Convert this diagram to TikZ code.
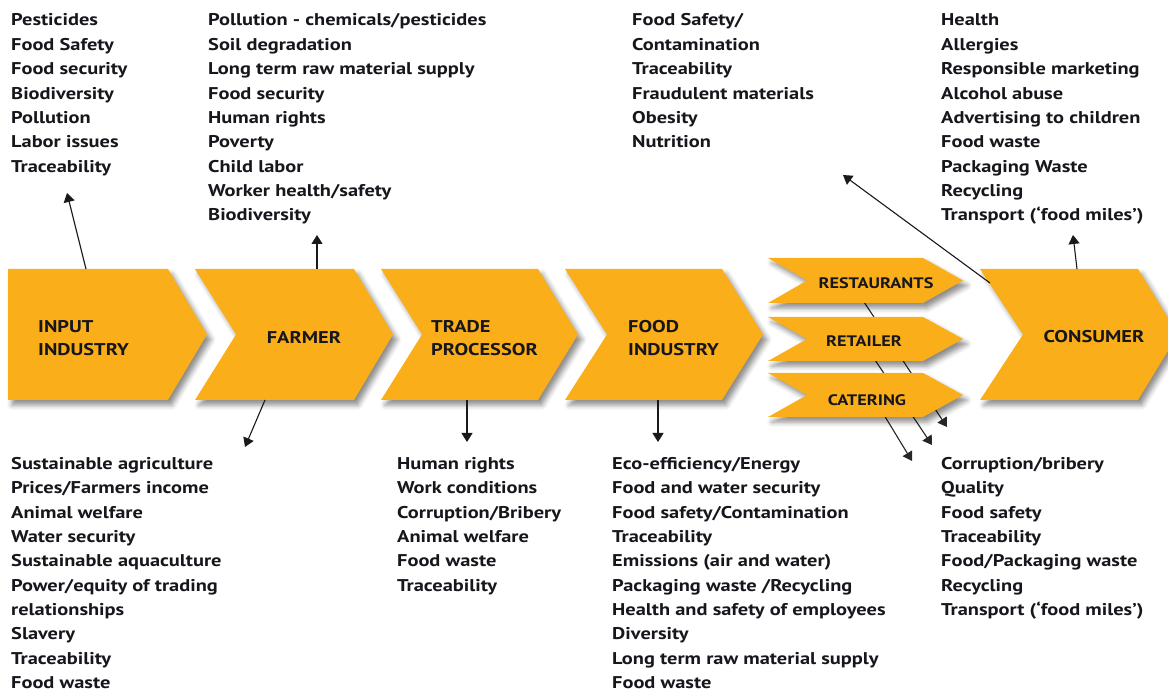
\documentclass[tikz,border=0pt]{standalone}
\usepackage{fontspec}
\setmainfont{PT Sans}[FakeStretch=1.2]
\usetikzlibrary{arrows.meta,shadows.blur}
\definecolor{chev}{RGB}{250,174,25}
\definecolor{txt}{RGB}{22,22,28}
\newcommand\mylist[4]{%
  \foreach \t [count=\i] in {#4}
    \node[lst] (#1\i) at ({#2},{#3+(\i-1)*24.35}) {\t};}
\newcommand\chevpath[6]{% x1,x2,ytop,ybot,depth,notch
  (#1,#3) -- (#2,#3) -- ({#2+#5},{(#3+#4)/2}) -- (#2,#4) -- (#1,#4) -- ({#1+#6},{(#3+#4)/2}) -- cycle}
\begin{document}
\begin{tikzpicture}[x=1pt,y=-1pt,
  lst/.style={anchor=base west, inner sep=0pt, font=\fontsize{17}{20}\selectfont\bfseries, text=txt},
  lbl/.style={inner sep=0pt, font=\fontsize{17}{22.5}\selectfont\bfseries, text=txt, align=left},
  slbl/.style={inner sep=0pt, font=\fontsize{15.2}{18}\selectfont\bfseries, text=txt},
  chevbox/.style={fill=chev, blur shadow={shadow xshift=4pt, shadow yshift=-5pt, shadow blur radius=5pt, shadow opacity=45}},
  con/.style={line width=1.1pt, draw=black!90, -{Triangle[width=11pt,length=9pt]}},
  bline/.style={line width=1.1pt, draw=black!85, -{Triangle[width=11pt,length=9pt]}}
]
\useasboundingbox (0,0) rectangle (1168,692);
\clip (0,0) rectangle (1168,692);

% coordinates for connectors
\coordinate (inA) at (86,269);   \coordinate (inT) at (67,193);
\coordinate (faU) at (317,269);  \coordinate (faUT) at (317,235);
\coordinate (faD) at (265,400);  \coordinate (faDT) at (245,447);
\coordinate (trD) at (467,400);  \coordinate (trDT) at (467,442);
\coordinate (foD) at (658,400);  \coordinate (foDT) at (658,442);
\coordinate (coU) at (1077,269); \coordinate (coUT) at (1073,235);
\coordinate (coL) at (990,283);  \coordinate (coLT) at (843,175);
\coordinate (reS) at (860,296);  \coordinate (reT) at (947,427);
\coordinate (rtS) at (871,354);  \coordinate (rtT) at (932,445);
\coordinate (caS) at (881,410);  \coordinate (caT) at (912,461);

% lines passing behind the small boxes
\draw[bline] (reS) -- (reT);
\draw[bline] (rtS) -- (rtT);
\draw[bline] (caS) -- (caT);

% chevrons
\fill[chevbox] \chevpath{8}{168}{269}{400}{39}{0};
\fill[chevbox] \chevpath{195}{354}{269}{400}{39}{41};
\fill[chevbox] \chevpath{381}{538}{269}{400}{40}{41};
\fill[chevbox] \chevpath{565}{722}{269}{400}{41}{42};
\fill[chevbox] \chevpath{980}{1138}{269}{400}{40}{43};
\fill[chevbox] \chevpath{768}{923}{258}{303}{40}{39};
\fill[chevbox] \chevpath{768}{923}{317}{361}{40}{39};
\fill[chevbox] \chevpath{768}{923}{373}{417}{40}{39};

% labels
\node[lbl, anchor=west] (input) at (38,338) {INPUT\\INDUSTRY};
\node[lbl] (farmer) at (304,337) {FARMER};
\node[lbl, anchor=west] (trade) at (431,338) {TRADE\\PROCESSOR};
\node[lbl, anchor=west] (food) at (628,338) {FOOD\\INDUSTRY};
\node[lbl] (consumer) at (1094,337) {CONSUMER};
\node[slbl] (restaurants) at (876,283) {RESTAURANTS};
\node[slbl] (retailer) at (864,341) {RETAILER};
\node[slbl] (catering) at (867,400) {CATERING};

% connectors
\draw[con] (inA) -- (inT);
\draw[con] (faU) -- (faUT);
\draw[con] (faD) -- (faDT);
\draw[con] (trD) -- (trDT);
\draw[con] (foD) -- (foDT);
\draw[con] (coU) -- (coUT);
\draw[con] (coL) -- (coLT);

% lists
\mylist{a}{11}{26}{{Pesticides},{Food Safety},{Food security},{Biodiversity},{Pollution},{Labor issues},{Traceability}}
\mylist{b}{208}{26}{{Pollution - chemicals/pesticides},{Soil degradation},{Long term raw material supply},{Food security},{Human rights},{Poverty},{Child labor},{Worker health/safety},{Biodiversity}}
\mylist{c}{632}{26}{{Food Safety/},{Contamination},{Traceability},{Fraudulent materials},{Obesity},{Nutrition}}
\mylist{d}{941}{26}{{Health},{Allergies},{Responsible marketing},{Alcohol abuse},{Advertising to children},{Food waste},{Packaging Waste},{Recycling},{Transport (‘food miles’)}}
\mylist{e}{11}{469.5}{{Sustainable agriculture},{Prices/Farmers income},{Animal welfare},{Water security},{Sustainable aquaculture},{Power/equity of trading},{relationships},{Slavery},{Traceability},{Food waste}}
\mylist{f}{397}{469.5}{{Human rights},{Work conditions},{Corruption/Bribery},{Animal welfare},{Food waste},{Traceability}}
\mylist{g}{612}{469.5}{{Eco-efficiency/Energy},{Food and water security},{Food safety/Contamination},{Traceability},{Emissions (air and water)},{Packaging waste /Recycling},{Health and safety of employees},{Diversity},{Long term raw material supply},{Food waste}}
\mylist{h}{941}{469.5}{{Corruption/bribery},{Quality},{Food safety},{Traceability},{Food/Packaging waste},{Recycling},{Transport (‘food miles’)}}
\end{tikzpicture}
\end{document}
